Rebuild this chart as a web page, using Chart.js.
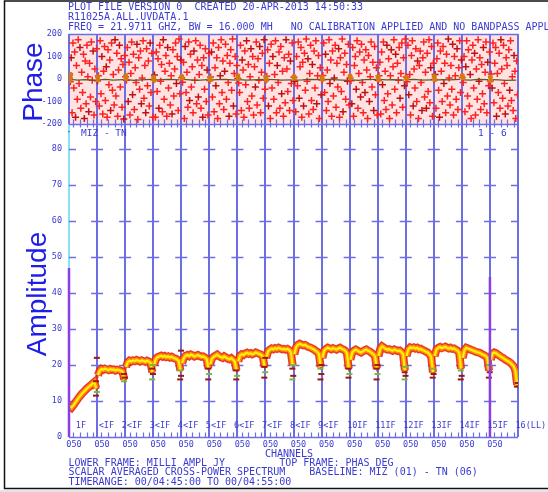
<!DOCTYPE html>
<html>
<head>
<meta charset="utf-8">
<script src="https://cdn.jsdelivr.net/npm/chart.js@4.4.1/dist/chart.umd.min.js"></script>
<style>
  html, body { margin: 0; padding: 0; background: #ffffff; }
  #wrap { position: relative; width: 548px; height: 492px; overflow: hidden; }
  #wrap canvas { position: absolute; left: 0; top: 0; }
</style>
</head>
<body>
<div id="wrap">
  <canvas id="amp" width="548" height="492"></canvas>
  <canvas id="pha" width="548" height="492"></canvas>
</div>
<script>
// ---- spectrum layout: 16 IFs of 64 channels each ----
const N_IF = 16;
const CHANS = 64;

// ---- tick labels ----
const ampTicks = [0, 10, 20, 30, 40, 50, 60, 70, 80];
const phaseTicks = [-200, -100, 0, 100, 200];
const ifLabels = ['1F', '<IF', '2<IF', '3<IF', '4<IF', '5<IF', '6<IF', '7<IF', '8<IF', '9<IF',
                  '10IF', '11IF', '12IF', '13IF', '14IF', '15IF', '16(LL)'];
const chanLabels = ['050', '050', '050', '050', '050', '050', '050', '050',
                    '050', '050', '050', '050', '050', '050', '050', '050'];
const minorTickChans = [10, 25, 40, 55];

// ---- header / footer text ----
const headerLines = [
  'PLOT FILE VERSION 0  CREATED 20-APR-2013 14:50:33',
  'R11025A.ALL.UVDATA.1',
  'FREQ = 21.9711 GHZ, BW = 16.000 MH   NO CALIBRATION APPLIED AND NO BANDPASS APPLIED'
];
const footerLines = [
  'LOWER FRAME: MILLI AMPL JY         TOP FRAME: PHAS DEG',
  'SCALAR AVERAGED CROSS-POWER SPECTRUM    BASELINE: MIZ (01) - TN (06)',
  'TIMERANGE: 00/04:45:00 TO 00/04:55:00'
];

// ---- amplitude (milli Jy), 16 samples per IF (every 4th channel) ----
const amplitude = [
  [8.6, 8.2, 8.8, 9.5, 10.2, 10.9, 11.5, 12.1, 12.6, 13.1, 13.6, 14.0, 14.4, 14.9, 15.3, 13.5],
  [17.2, 18.4, 18.9, 18.7, 19.0, 18.8, 18.6, 18.9, 18.7, 18.8, 18.5, 18.7, 18.6, 18.4, 18.2, 16.0],
  [19.5, 20.8, 21.2, 21.0, 21.3, 21.1, 21.4, 21.2, 21.0, 21.3, 21.1, 20.9, 21.2, 21.0, 20.6, 18.0],
  [20.0, 21.6, 22.2, 22.4, 22.6, 22.3, 22.5, 22.2, 22.4, 22.1, 22.3, 22.0, 21.8, 21.6, 21.2, 18.5],
  [20.5, 22.0, 22.6, 22.8, 22.5, 22.9, 22.7, 22.4, 22.6, 22.8, 22.5, 22.3, 22.4, 22.1, 21.7, 19.0],
  [20.2, 21.8, 22.3, 22.6, 22.9, 22.5, 22.2, 22.0, 22.4, 22.1, 21.8, 21.6, 21.9, 21.5, 21.0, 18.5],
  [21.0, 22.6, 23.0, 22.8, 23.2, 23.4, 23.1, 23.3, 23.0, 23.2, 23.5, 23.3, 23.1, 22.9, 22.4, 19.5],
  [22.0, 23.8, 24.3, 24.6, 24.4, 24.7, 24.5, 24.8, 24.6, 24.4, 24.5, 24.3, 24.5, 24.2, 23.6, 20.0],
  [23.0, 25.0, 25.6, 25.9, 25.7, 25.5, 25.6, 25.3, 25.0, 24.9, 24.6, 24.4, 24.0, 23.7, 23.0, 19.5],
  [22.0, 24.0, 24.5, 24.8, 24.6, 24.4, 24.7, 24.5, 24.3, 24.6, 24.8, 24.5, 24.3, 24.0, 23.2, 19.0],
  [21.5, 23.5, 24.0, 24.3, 24.0, 23.7, 23.5, 23.8, 24.1, 24.3, 24.0, 23.8, 23.4, 23.0, 22.4, 19.0],
  [22.5, 24.6, 25.2, 24.9, 24.5, 24.3, 24.4, 24.2, 24.0, 24.3, 24.1, 23.9, 24.0, 23.6, 23.0, 18.5],
  [22.5, 24.4, 24.9, 24.7, 24.9, 24.6, 24.8, 24.4, 24.5, 24.2, 24.0, 23.7, 23.5, 23.0, 22.3, 18.0],
  [22.5, 24.3, 24.8, 25.0, 24.7, 24.9, 25.1, 24.8, 24.6, 24.8, 24.5, 24.6, 24.3, 24.0, 23.4, 19.0],
  [22.0, 24.2, 24.8, 24.6, 24.4, 24.2, 24.0, 23.8, 23.6, 23.5, 23.3, 23.0, 22.8, 22.5, 22.0, 18.5],
  [21.5, 23.2, 23.5, 23.3, 22.9, 22.6, 22.2, 22.0, 21.6, 21.3, 21.0, 20.7, 20.2, 19.7, 18.5, 14.5]
];

// band-edge channels (end of each IF), scattered low amplitudes
const edgeAmp = [
  [11.5, 12.5, 15.5, 22.0], [15.5, 16.5, 17.5], [16.0, 17.5, 19.0, 20.0], [16.0, 17.0, 18.5, 24.0],
  [16.0, 17.5, 19.0], [16.0, 17.0, 18.5], [16.5, 18.0, 19.5, 22.0], [16.0, 17.0, 19.0, 20.0],
  [16.0, 17.5, 19.0, 20.0], [16.5, 17.5, 19.0], [16.0, 17.5, 19.0, 20.0], [16.0, 17.0, 18.0, 19.5],
  [16.5, 17.5, 19.0], [16.0, 17.0, 18.5], [16.5, 18.0, 20.0], [14.0, 15.0]
];

// single-channel spikes
const spikeChans = [0, 960];
const spikeAmps = [47, 44.5];

// ---- phase (deg), 32 samples per IF (every 2nd channel) ----
const phase = [
  [4, -12, 95, -150, 160, -40, 120, -170, 60, -90, 175, -20, 140, -130, 30, -60, 110, -175, 80, -110, 150, 10, -145, 70, -80, 165, -5, 125, -160, 45, -100, 135],
  [-8, 15, -120, 170, -65, 100, -155, 35, 145, -95, 55, -170, 130, -25, 85, -140, 160, -50, 20, -115, 175, -75, 115, -165, 40, 150, -35, 90, -125, 65, -178, 105],
  [10, -5, 140, -100, 75, -160, 25, 165, -70, 110, -135, 50, -15, 155, -180, 95, -45, 125, -110, 5, 170, -85, 60, -150, 135, -30, 80, -120, 160, -60, 115, -170],
  [-3, 18, -170, 120, -55, 90, -130, 150, -10, 65, -145, 175, -90, 35, 105, -165, 140, -40, 70, -115, 15, -155, 130, -75, 45, 160, -20, 100, -140, 178, -65, 85],
  [6, -14, 75, -175, 145, -60, 30, -125, 165, -95, 110, -35, 55, -150, 125, -5, 170, -110, 85, -80, 20, 150, -130, 60, -170, 95, -45, 135, -100, 40, -160, 115],
  [-7, 9, 120, -80, 160, -145, 50, -30, 95, -175, 140, -110, 15, 175, -60, 80, -135, 35, 155, -90, 105, -15, -165, 70, 130, -50, 178, -120, 25, 100, -155, 60],
  [2, -18, -60, 150, -140, 85, 40, -170, 125, -25, 170, -100, 65, -130, 10, 135, -75, 100, -160, 55, -35, 165, -115, 90, -5, 145, -150, 30, 115, -85, 175, -45],
  [-5, 12, 130, -120, 70, -175, 155, -40, 100, -90, 20, 170, -150, 60, -15, 120, -130, 145, -65, 35, -165, 95, -105, 175, 45, -55, 110, -140, 80, -20, 160, -95],
  [8, -10, -145, 100, -30, 165, -85, 55, 140, -170, 75, -120, 115, -50, 178, -10, 90, -155, 25, 150, -95, 65, -135, 125, -40, 170, -110, 15, 105, -175, 50, -70],
  [-4, 16, 160, -60, 110, -140, 40, -100, 175, -20, 85, -165, 125, -75, 5, 150, -125, 70, -35, 135, -170, 95, -55, 178, -145, 30, 115, -90, 65, -10, 155, -115],
  [5, -8, -110, 140, -165, 60, 100, -45, 170, -130, 25, 120, -80, 155, -15, -150, 85, -60, 130, 40, -175, 105, -100, 10, 165, -35, 75, -140, 145, -70, 50, -160],
  [-6, 14, 75, -155, 120, -25, 165, -95, 35, -135, 150, -65, 90, -175, 15, 130, -115, 55, 175, -45, 110, -150, 70, -5, 140, -85, 25, 160, -125, 95, -30, 178],
  [9, -12, 150, -70, 20, -160, 105, 170, -120, 45, -40, 135, -100, 80, -175, 60, 125, -15, -140, 95, 165, -80, 30, -130, 115, -55, 175, -105, 50, 145, -165, 70],
  [-2, 20, -130, 90, 160, -50, -170, 125, 35, -100, 145, -20, 70, -150, 110, -75, 178, 5, -115, 60, -45, 155, -160, 100, 15, -90, 135, -135, 50, 170, -60, 85],
  [7, -16, 100, -145, 55, 170, -75, 130, -120, 20, -175, 85, 150, -40, 115, -160, 45, -90, 175, -10, 95, -135, 65, -65, 140, -110, 30, 165, -150, 75, -30, 120],
  [-9, 22, -40, 160, -105, 70, 140, -165, 25, -60, 115, -130, 175, 45, -85, 150, -20, -155, 95, 60, -120, 130, -50, 170, -95, 10, -140, 105, 35, -175, 80, -70]
];

// vector-averaged phase, 4 samples per IF
const phaseMean = [
  [-2, -5, -3, -6], [-4, -2, -5, -3], [-3, -6, -4, -2], [-5, -3, -2, -4],
  [-2, -4, -6, -3], [-4, -3, -2, -5], [-3, -5, -4, -2], [-2, -3, -5, -4],
  [-5, -4, -2, -3], [-3, -2, -4, -6], [-4, -6, -3, -2], [-2, -4, -3, -5],
  [-3, -2, -5, -4], [-5, -3, -4, -2], [-4, -5, -2, -3], [-3, -4, -6, -5]
];
// first channels of each IF sit near zero phase
const phaseEdge = [
  [12, 3, -8, 20], [10, -4], [14, 2], [8, -6], [12, 4], [6, -3], [15, 1], [9, -5],
  [11, 3], [7, -2], [13, 5], [10, -4], [8, 2], [12, -3], [16, 6], [9, -7]
];

// ---- build point lists ----
const ampLine = [];
amplitude.forEach((row, k) => {
  row.forEach((v, j) => ampLine.push({ x: k * CHANS + 2 + 4 * j, y: v }));
  ampLine.push({ x: (k + 1) * CHANS, y: null });
});
const edgePts = [];
edgeAmp.forEach((row, k) => {
  row.forEach((v, i) => edgePts.push({ x: (k + 1) * CHANS - 2.5 + (i % 2) * 2, y: v }));
});
const spikeLine = [];
spikeChans.forEach((c, i) => {
  spikeLine.push({ x: c, y: 0 }, { x: c, y: spikeAmps[i] }, { x: c, y: null });
});
const phasePts = [];
phase.forEach((row, k) => row.forEach((v, j) => phasePts.push({ x: k * CHANS + 1 + 2 * j, y: v })));
const meanLine = [];
phaseMean.forEach((row, k) => {
  row.forEach((v, j) => meanLine.push({ x: k * CHANS + 4 + 16 * j + (j === 3 ? 8 : 0), y: v }));
  meanLine.push({ x: (k + 1) * CHANS, y: null });
});
const edgePhasePts = [];
phaseEdge.forEach((row, k) => row.forEach((v, i) => edgePhasePts.push({ x: k * CHANS + 1 + i, y: v })));

// ---- styling ----
const MONO = '"DejaVu Sans Mono", "Liberation Mono", monospace';
const TXT = '#3b3bd2';
const GRID = '#6d6de4';
const TEXT_FONT = '10px ' + MONO;     // header / footer
const SMALL_FONT = '8.5px ' + MONO;   // axis annotations

function fixWidth(scale) { scale.width = 69; }

// frame, grid, ticks and annotation for the amplitude panel
const ampFrame = {
  id: 'ampFrame',
  beforeDatasetsDraw(chart) {
    const { ctx, chartArea: a, scales: { x, y } } = chart;
    ctx.save();
    // IF boundary lines
    for (let k = 0; k <= N_IF; k++) {
      const px = Math.round(x.getPixelForValue(k * CHANS));
      ctx.strokeStyle = k === 0 ? '#86e4f2' : GRID;
      ctx.lineWidth = 2;
      ctx.beginPath(); ctx.moveTo(px, a.top); ctx.lineTo(px, a.bottom); ctx.stroke();
    }
    // horizontal tick dashes at each amplitude tick
    ctx.strokeStyle = GRID; ctx.lineWidth = 1.5;
    ampTicks.forEach(t => {
      if (t === 0) return;
      const py = Math.round(y.getPixelForValue(t)) + 0.5;
      ctx.beginPath();
      ctx.moveTo(a.left, py); ctx.lineTo(a.left + 7, py);
      for (let k = 1; k < N_IF; k++) {
        const px = x.getPixelForValue(k * CHANS);
        ctx.moveTo(px - 6, py); ctx.lineTo(px + 6, py);
      }
      ctx.moveTo(a.right - 7, py); ctx.lineTo(a.right, py);
      ctx.stroke();
    });
    // baseline and minor channel ticks
    const by = Math.round(y.getPixelForValue(0)) + 0.5;
    ctx.lineWidth = 1.5;
    ctx.beginPath(); ctx.moveTo(a.left, by); ctx.lineTo(a.right, by); ctx.stroke();
    ctx.lineWidth = 1.2;
    ctx.beginPath();
    for (let k = 0; k < N_IF; k++) {
      minorTickChans.forEach(c => {
        const px = Math.round(x.getPixelForValue(k * CHANS + c)) + 0.5;
        ctx.moveTo(px, by); ctx.lineTo(px, by - 5);
      });
    }
    ctx.stroke();
    ctx.restore();
  },
  afterDraw(chart) {
    const { ctx, scales: { x } } = chart;
    ctx.save();
    ctx.fillStyle = TXT;
    ctx.textBaseline = 'middle';
    // IF labels
    ctx.font = SMALL_FONT;
    ifLabels.forEach((s, k) => {
      const px = x.getPixelForValue(k * CHANS);
      if (k < 10) { ctx.textAlign = 'right'; ctx.fillText(s, px + 17, 426); }
      else { ctx.textAlign = 'left'; ctx.fillText(s, px - 2.5, 426); }
    });
    // channel labels
    ctx.textAlign = 'center';
    chanLabels.forEach((s, k) => ctx.fillText(s, x.getPixelForValue(k * CHANS) + 5, 445));
    // header / footer
    ctx.font = TEXT_FONT;
    ctx.fillText('CHANNELS', 289, 454);
    ctx.textAlign = 'left';
    footerLines.forEach((s, i) => ctx.fillText(s, 68.5, 463.5 + i * 9.3));
    headerLines.forEach((s, i) => ctx.fillText(s, 68, 7 + i * 10));
    // baseline names
    ctx.font = '9.5px ' + MONO;
    ctx.fillText('MIZ - TN', 81, 134);
    ctx.fillText('1 - 6', 478, 134);
    ctx.fillText('\u00b7', 66, 133);
    // panel titles
    ctx.fillStyle = '#1e1ee8';
    ctx.font = '28px "Liberation Sans", Arial, sans-serif';
    ctx.textAlign = 'center';
    ctx.textBaseline = 'alphabetic';
    ctx.save(); ctx.translate(42, 82); ctx.rotate(-Math.PI / 2); ctx.fillText('Phase', 0, 0); ctx.restore();
    ctx.save(); ctx.translate(46, 294); ctx.rotate(-Math.PI / 2); ctx.fillText('Amplitude', 0, 0); ctx.restore();
    // outer frame
    ctx.strokeStyle = '#111111'; ctx.lineWidth = 1.5;
    ctx.beginPath();
    ctx.moveTo(548, 1); ctx.lineTo(4.5, 1); ctx.lineTo(4.5, 488.5); ctx.lineTo(548, 488.5);
    ctx.stroke();
    ctx.fillStyle = '#e4e4e4';
    ctx.fillRect(0, 490, 548, 2);
    ctx.restore();
  }
};

// frame and grid for the phase panel
const phaseFrame = {
  id: 'phaseFrame',
  beforeDatasetsDraw(chart) {
    const { ctx, chartArea: a, scales: { x } } = chart;
    ctx.save();
    ctx.fillStyle = '#ffe2e2';
    ctx.fillRect(a.left, a.top, a.right - a.left, a.bottom - a.top);
    ctx.strokeStyle = GRID; ctx.lineWidth = 2;
    for (let k = 0; k <= N_IF; k++) {
      const px = Math.round(x.getPixelForValue(k * CHANS));
      ctx.beginPath(); ctx.moveTo(px, a.top); ctx.lineTo(px, a.bottom); ctx.stroke();
    }
    ctx.lineWidth = 1.5;
    ctx.beginPath(); ctx.moveTo(a.left, Math.round(a.top) + 0.5); ctx.lineTo(a.right, Math.round(a.top) + 0.5); ctx.stroke();
    const by = Math.round(a.bottom) + 0.5;
    ctx.beginPath(); ctx.moveTo(a.left, by); ctx.lineTo(a.right, by); ctx.stroke();
    ctx.lineWidth = 1.2;
    ctx.beginPath();
    for (let k = 0; k < N_IF; k++) {
      minorTickChans.forEach(c => {
        const px = Math.round(x.getPixelForValue(k * CHANS + c)) + 0.5;
        ctx.moveTo(px, by - 5); ctx.lineTo(px, by + 3);
      });
    }
    ctx.stroke();
    ctx.restore();
  }
};

const commonX = { type: 'linear', min: 0, max: N_IF * CHANS, display: false };
function yAxis(min, max, ticks) {
  return {
    min, max,
    afterFit: fixWidth,
    afterBuildTicks(scale) { scale.ticks = ticks.map(v => ({ value: v })); },
    grid: { display: false, drawTicks: false },
    border: { display: false },
    ticks: { color: TXT, padding: 7, font: { family: MONO, size: 8.5 } }
  };
}

// datasets listed first are painted last (on top)
new Chart(document.getElementById('amp'), {
  type: 'scatter',
  data: {
    datasets: [
      { data: spikeLine, showLine: true, borderColor: '#8a3ee6', borderWidth: 2.5, pointRadius: 0, spanGaps: false, clip: false },
      { data: edgePts, showLine: false, pointStyle: 'line', pointRadius: 3,
        pointBorderWidth: 2,
        pointBorderColor: ctx => (ctx.dataIndex % 3 === 1 ? '#7cb838' : '#9a1a10') },
      { data: ampLine, showLine: true, borderColor: '#fff200', borderWidth: 2.2, pointRadius: 0, spanGaps: false },
      { data: ampLine, showLine: true, borderColor: '#ff8c10', borderWidth: 5, pointRadius: 0, spanGaps: false },
      { data: ampLine, showLine: true, borderColor: 'rgba(232,36,20,0.9)', borderWidth: 8,
        pointStyle: 'cross', pointRadius: 3, pointBorderWidth: 1, pointBorderColor: '#e0301a', spanGaps: false }
    ]
  },
  options: {
    responsive: false, animation: false, events: [],
    layout: { padding: { left: 0, right: 30, top: 124, bottom: 55 } },
    plugins: { legend: { display: false }, tooltip: { enabled: false } },
    scales: { x: commonX, y: yAxis(0, 87, ampTicks) }
  },
  plugins: [ampFrame]
});

new Chart(document.getElementById('pha'), {
  type: 'scatter',
  data: {
    datasets: [
      { data: edgePhasePts, pointStyle: 'circle', pointRadius: 2.5, pointBorderWidth: 0, pointBackgroundColor: '#d47a12' },
      { data: meanLine, showLine: true, borderColor: '#5c5c22', borderWidth: 1.2, pointRadius: 0, spanGaps: false },
      { data: phasePts, pointStyle: 'cross', pointRadius: 3.5, pointBorderWidth: 1.5,
        pointBorderColor: ctx => (ctx.dataIndex % 5 === 2 ? '#c01010' : '#ff2020') }
    ]
  },
  options: {
    responsive: false, animation: false, events: [],
    layout: { padding: { left: 0, right: 30, top: 34, bottom: 368 } },
    plugins: { legend: { display: false }, tooltip: { enabled: false } },
    scales: { x: commonX, y: yAxis(-200, 200, phaseTicks) }
  },
  plugins: [phaseFrame]
});
</script>
</body>
</html>
